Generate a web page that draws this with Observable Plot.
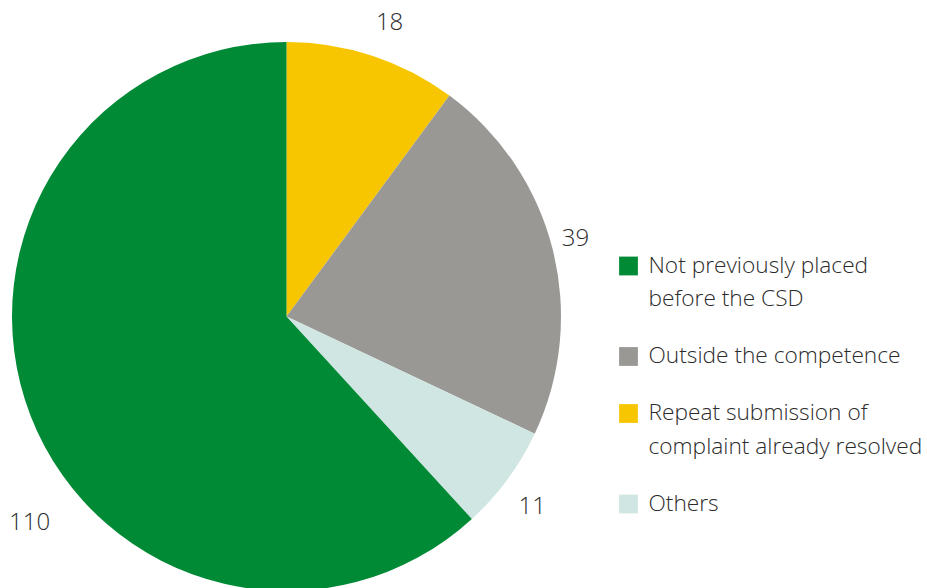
<!DOCTYPE html>
<html><head><meta charset="utf-8">
<script src="https://cdn.jsdelivr.net/npm/d3@7"></script>
<script src="https://cdn.jsdelivr.net/npm/@observablehq/plot@0.6"></script>
<style>
html,body{margin:0;padding:0;background:#fff;}
#chart{width:927px;height:588px;overflow:hidden;}
</style></head><body><div id="chart"></div>
<script>
// ---- data ----
const categories = ["Repeat submission of complaint already resolved", "Outside the competence", "Others", "Not previously placed before the CSD"];
const values = [18, 39, 11, 110];
const colors = ["#F8C600", "#9A9894", "#CFE6E2", "#008A35"];
const legendOrder = ["Not previously placed before the CSD", "Outside the competence", "Repeat submission of complaint already resolved", "Others"];
const legendLabels = ["Not previously placed\nbefore the CSD", "Outside the competence", "Repeat submission of\ncomplaint already resolved", "Others"];

// ---- layout ----
const W = 927, H = 588;
const cx = 286.5, cy = 316.5, R = 274.5;
// value-label placement: angle offset (deg) from slice middle, radius (px)
const labelPlacement = {
  "Repeat submission of complaint already resolved": {angle: 1.0, r: 312},
  "Outside the competence": {angle: -1.1, r: 299},
  "Others": {angle: 1.3, r: 310},
  "Not previously placed before the CSD": {angle: -17.3, r: 329}
};
const fontSize = 22.7;
const legendX = 628, legendTextX = 648, legendTop = 272, lineStep = 33.5, itemGap = 57;
const fontFamily = "'Open Sans', 'Noto Sans', sans-serif";

const data = categories.map((c, i) => ({category: c, value: values[i]}));
const arcs = d3.pie().sort(null).value(d => d.value)(data);

const labels = arcs.map(a => {
  const p = labelPlacement[a.data.category];
  const ang = (a.startAngle + a.endAngle) / 2 + p.angle * Math.PI / 180;
  return {text: String(a.data.value), x: cx + p.r * Math.sin(ang), y: cy - p.r * Math.cos(ang)};
});

let yb = legendTop;
const legend = legendOrder.map((c, i) => {
  const lines = legendLabels[i].split("\n").length;
  const item = {category: c, label: legendLabels[i], baseline: yb};
  yb += (lines - 1) * lineStep + itemGap;
  return item;
});

function pieMark(index, scales) {
  const g = d3.create("svg:g")
    .attr("transform", `translate(${scales.x(cx)},${scales.y(cy)})`);
  const arc = d3.arc().innerRadius(0).outerRadius(R);
  g.selectAll("path").data(arcs).join("path")
    .attr("d", arc)
    .attr("fill", d => scales.color(d.data.category));
  return g.node();
}

const chart = Plot.plot({
  width: W, height: H,
  margin: 0,
  x: {domain: [0, W], range: [0, W], axis: null},
  y: {domain: [0, H], range: [0, H], axis: null},
  color: {domain: categories, range: colors},
  style: {fontFamily, background: "#fff"},
  marks: [
    pieMark,
    Plot.text(labels, {x: "x", y: "y", text: "text", fontSize: 24, fontWeight: 300, fill: "#2b2b2b", textAnchor: "middle"}),
    Plot.dot(legend, {x: () => legendX, y: d => d.baseline - 6.5, symbol: "square", r: 10.6, fill: "category", stroke: null}),
    Plot.text(legend, {x: () => legendTextX, y: d => d.baseline - 1.04 * fontSize, text: "label", lineAnchor: "top", textAnchor: "start", lineHeight: lineStep / fontSize, fontSize, fontWeight: 300, fill: "#2b2b2b"})
  ]
});
document.getElementById("chart").appendChild(chart);
</script></body></html>
